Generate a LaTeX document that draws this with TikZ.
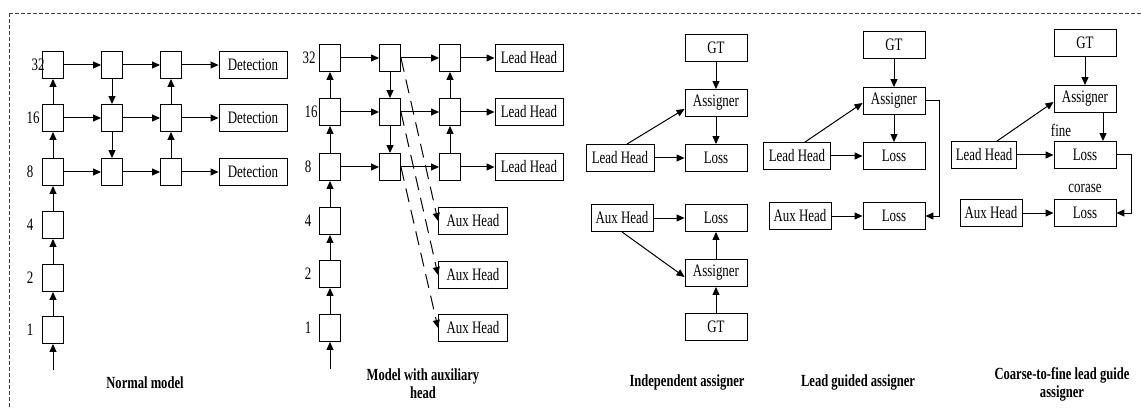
\documentclass[tikz,border=0pt]{standalone}
\usepackage{fontspec}
\setmainfont{Liberation Serif}[FakeStretch=0.74]
\usetikzlibrary{arrows.meta}
\begin{document}
\begin{tikzpicture}[x=1pt,y=-1pt,
 box/.style={draw,line width=0.9pt,minimum width=21pt,minimum height=27pt,inner sep=0pt},
 hbox/.style={draw,line width=0.9pt,minimum height=27pt,inner sep=0pt,font=\fontsize{17.5}{18}\selectfont},
 arr/.style={line width=1pt,-{Triangle[length=8pt,width=7pt]}},
 darr/.style={arr,dash pattern=on 14pt off 8pt},
 lbl/.style={font=\fontsize{17.5}{18}\selectfont,inner sep=0pt},
 ttl/.style={font=\fontsize{17}{18}\selectfont\bfseries,align=center,inner sep=0pt},
 frame/.style={draw=black!75,line width=0.7pt,dash pattern=on 4pt off 2pt}]
\useasboundingbox (0,0) rectangle (1141,409);
\clip (0,0) rectangle (1141,409);
\path[frame] (9,13) rectangle (1160,430);

% ---------------- Panel 1: Normal model
\foreach \r/\y in {32/65,16/118,8/172,4/225,2/278,1/330}
  \node[box] (p1a\r) at (53,\y) {};
\foreach \r/\y in {32/65,16/118,8/172}{
  \node[box] (p1b\r) at (112,\y) {};
  \node[box] (p1c\r) at (171,\y) {};
  \node[hbox,minimum width=68pt] (p1d\r) at (253,\y) {Detection};
}
\node[lbl] (p1l32) at (38,65) {32};
\node[lbl] (p1l16) at (33,118) {16};
\node[lbl] (p1l8) at (30,172) {8};
\node[lbl] (p1l4) at (30,225) {4};
\node[lbl] (p1l2) at (30,278) {2};
\node[lbl] (p1l1) at (30,330) {1};
\coordinate (p1in) at (53,370);
\draw[arr] (p1in) -- (p1a1);
\foreach \lo/\hi in {1/2,2/4,4/8,8/16,16/32}
  \draw[arr] (p1a\lo) -- (p1a\hi);
\draw[arr] (p1b32) -- (p1b16);
\draw[arr] (p1b16) -- (p1b8);
\draw[arr] (p1c8) -- (p1c16);
\draw[arr] (p1c16) -- (p1c32);
\foreach \r in {32,16,8}{
  \draw[arr] (p1a\r) -- (p1b\r);
  \draw[arr] (p1b\r) -- (p1c\r);
  \draw[arr] (p1c\r) -- (p1d\r);
}
\node[ttl] (p1t) at (145,383) {Normal model};

% ---------------- Panel 2: Model with auxiliary head
\foreach \r/\y in {32/58,16/112,8/167,4/221,2/274,1/328}
  \node[box] (p2a\r) at (330,\y) {};
\foreach \r/\y in {32/58,16/112,8/167}{
  \node[box] (p2b\r) at (390,\y) {};
  \node[box] (p2c\r) at (450,\y) {};
  \node[hbox,minimum width=68pt] (p2d\r) at (529,\y) {Lead Head};
}
\node[hbox,minimum width=69pt] (p2x1) at (473,221) {Aux Head};
\node[hbox,minimum width=69pt] (p2x2) at (473,275) {Aux Head};
\node[hbox,minimum width=69pt] (p2x3) at (473,328) {Aux Head};
\node[lbl] (p2l32) at (309,58) {32};
\node[lbl] (p2l16) at (311,112) {16};
\node[lbl] (p2l8) at (308,167) {8};
\node[lbl] (p2l4) at (308,221) {4};
\node[lbl] (p2l2) at (308,274) {2};
\node[lbl] (p2l1) at (308,328) {1};
\coordinate (p2in) at (330,369);
\draw[arr] (p2in) -- (p2a1);
\foreach \lo/\hi in {1/2,2/4,4/8,8/16,16/32}
  \draw[arr] (p2a\lo) -- (p2a\hi);
\draw[arr] (p2b32) -- (p2b16);
\draw[arr] (p2b16) -- (p2b8);
\draw[arr] (p2c8) -- (p2c16);
\draw[arr] (p2c16) -- (p2c32);
\foreach \r in {32,16,8}{
  \draw[arr] (p2a\r) -- (p2b\r);
  \draw[arr] (p2b\r) -- (p2c\r);
  \draw[arr] (p2c\r) -- (p2d\r);
}
\draw[darr] (p2b32.east) -- (p2x1.west);
\draw[darr] (p2b16.east) -- (p2x2.west);
\draw[darr] (p2b8.east) -- (p2x3.west);
\node[ttl] (p2t) at (423,384) {Model with auxiliary\\head};

% ---------------- Panel 3: Independent assigner
\node[hbox,minimum width=62pt] (p3gt1) at (716,48) {GT};
\node[hbox,minimum width=62pt] (p3as1) at (716,103) {Assigner};
\node[hbox,minimum width=62pt] (p3lo1) at (716,158) {Loss};
\node[hbox,minimum width=68pt] (p3lead) at (620,158) {Lead Head};
\node[hbox,minimum width=62pt] (p3aux) at (622,218) {Aux Head};
\node[hbox,minimum width=62pt] (p3lo2) at (716,218) {Loss};
\node[hbox,minimum width=62pt] (p3as2) at (716,273) {Assigner};
\node[hbox,minimum width=62pt] (p3gt2) at (716,327) {GT};
\draw[arr] (p3gt1) -- (p3as1);
\draw[arr] (p3as1) -- (p3lo1);
\draw[arr] (p3lead) -- (p3lo1);
\draw[arr] ([xshift=7pt]p3lead.north) -- ([yshift=-6pt]p3as1.west);
\draw[arr] (p3aux) -- (p3lo2);
\draw[arr] (p3aux.south) -- ([yshift=-4pt]p3as2.west);
\draw[arr] (p3as2) -- (p3lo2);
\draw[arr] (p3gt2) -- (p3as2);
\node[ttl] (p3t) at (687,382) {Independent assigner};

% ---------------- Panel 4: Lead guided assigner
\node[hbox,minimum width=62pt] (p4gt) at (894,45) {GT};
\node[hbox,minimum width=62pt] (p4as) at (894,101) {Assigner};
\node[hbox,minimum width=62pt] (p4lo1) at (894,156) {Loss};
\node[hbox,minimum width=67pt] (p4lead) at (797,156) {Lead Head};
\node[hbox,minimum width=62pt] (p4aux) at (800,216) {Aux Head};
\node[hbox,minimum width=62pt] (p4lo2) at (894,216) {Loss};
\draw[arr] (p4gt) -- (p4as);
\draw[arr] (p4as) -- (p4lo1);
\draw[arr] (p4lead) -- (p4lo1);
\draw[arr] ([xshift=8pt]p4lead.north) -- ([yshift=-2pt]p4as.west);
\draw[arr] (p4aux) -- (p4lo2);
\draw[arr] (p4as.east) -- ++(14,0) |- (p4lo2.east);
\node[ttl] (p4t) at (858,382) {Lead guided assigner};

% ---------------- Panel 5: Coarse-to-fine lead guide assigner
\node[hbox,minimum width=62pt] (p5gt) at (1085,43) {GT};
\node[hbox,minimum width=62pt] (p5as) at (1085,99) {Assigner};
\node[hbox,minimum width=62pt] (p5lo1) at (1085,155) {Loss};
\node[hbox,minimum width=65pt] (p5lead) at (984,155) {Lead Head};
\node[hbox,minimum width=62pt] (p5aux) at (991,213) {Aux Head};
\node[hbox,minimum width=62pt] (p5lo2) at (1085,213) {Loss};
\node[lbl] (p5fine) at (1061,130) {fine};
\node[lbl] (p5cor) at (1085,188) {corase};
\draw[arr] (p5gt) -- (p5as);
\draw[arr] ([xshift=18pt]p5as.south) -- ([xshift=18pt]p5lo1.north);
\draw[arr] (p5lead) -- (p5lo1);
\draw[arr] ([xshift=13pt]p5lead.north) -- ([yshift=-3pt]p5as.west);
\draw[arr] (p5aux) -- (p5lo2);
\draw[arr] (p5lo1.east) -- ++(15,0) |- (p5lo2.east);
\node[ttl] (p5t) at (1062,384) {Coarse-to-fine lead guide\\assigner};
\end{tikzpicture}
\end{document}
